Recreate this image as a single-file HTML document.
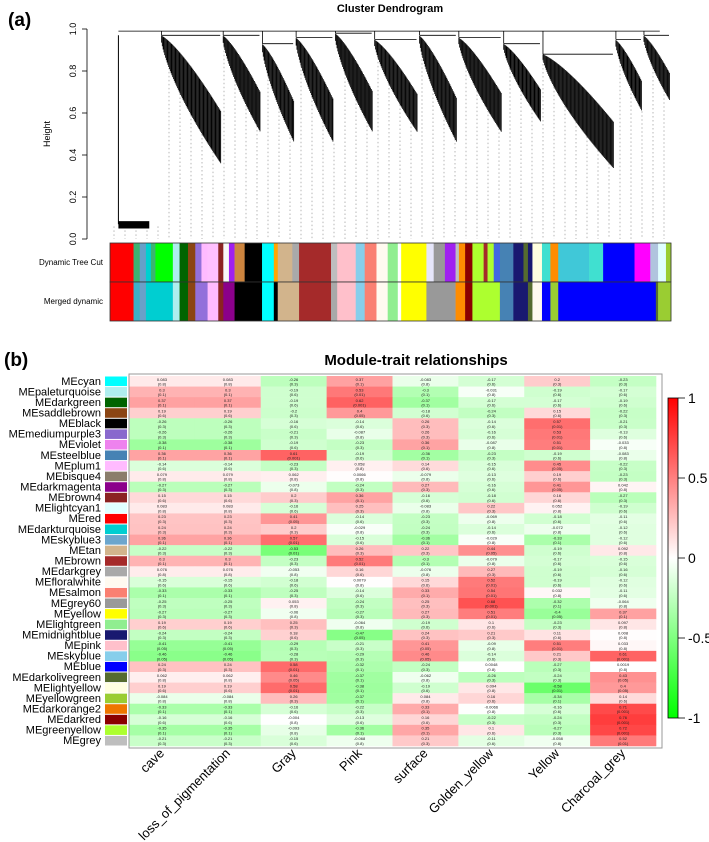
<!DOCTYPE html>
<html><head><meta charset="utf-8"><style>
html,body{margin:0;padding:0;background:#fff;}
svg{display:block;font-family:"Liberation Sans",Arial,sans-serif;}
</style></head><body>
<svg id="fig" width="709" height="842" viewBox="0 0 709 842">
  <text x="8" y="26" font-size="19" font-weight="bold">(a)</text>
  <text x="390" y="12" font-size="11" font-weight="bold" text-anchor="middle">Cluster Dendrogram</text>
  <g id="dendro"></g>
  <g id="yaxis"></g>
  <text transform="translate(50,134) rotate(-90)" font-size="9" text-anchor="middle">Height</text>
  <text x="103" y="265" font-size="8" text-anchor="end">Dynamic Tree Cut</text>
  <text x="103" y="304" font-size="8" text-anchor="end">Merged dynamic</text>
  <g id="bars"></g>

  <text x="4" y="366" font-size="19" font-weight="bold">(b)</text>
  <text x="416" y="365" font-size="15" font-weight="bold" text-anchor="middle">Module-trait relationships</text>
  <g id="heat"></g>
  <g id="rowlabels"></g>
  <g id="collabels"></g>
  <defs><linearGradient id="cbg" x1="0" y1="0" x2="0" y2="1">
    <stop offset="0" stop-color="#ff0000"/><stop offset="0.5" stop-color="#ffffff"/><stop offset="1" stop-color="#00ff00"/>
  </linearGradient></defs>
  <g id="cbar"></g>
</svg>
<script>
const modules = ["cyan","paleturquoise","darkgreen","saddlebrown","black","mediumpurple3","violet","steelblue","plum1","bisque4","darkmagenta","brown4","lightcyan1","red","darkturquoise","skyblue3","tan","brown","darkgrey","floralwhite","salmon","grey60","yellow","lightgreen","midnightblue","pink","skyblue","blue","darkolivegreen","lightyellow","yellowgreen","darkorange2","darkred","greenyellow","grey"];
const swatch = ["#00ffff","#afeeee","#006400","#8b4513","#000000","#8968cd","#ee82ee","#4682b4","#ffbbff","#8b7d6b","#8b008b","#8b2323","#e0ffff","#ff0000","#00ced1","#6ca6cd","#d2b48c","#a52a2a","#a9a9a9","#fffaf0","#fa8072","#999999","#ffff00","#90ee90","#191970","#ffc0cb","#87ceeb","#0000ff","#556b2f","#ffffe0","#9acd32","#ee7600","#8b0000","#adff2f","#bebebe"];
const traits = ["cave","loss_of_pigmentation","Gray","Pink","surface","Golden_yellow","Yellow","Charcoal_grey"];
const corr = [
[0.083,0.083,-0.26,0.37,-0.083,-0.17,0.2,-0.23],
[0.3,0.3,-0.19,0.53,-0.3,-0.031,-0.19,-0.17],
[0.37,0.37,-0.19,0.62,-0.37,-0.17,-0.17,-0.19],
[0.19,0.19,-0.2,0.4,-0.18,-0.24,0.15,-0.22],
[-0.26,-0.26,-0.16,-0.14,0.26,-0.14,0.57,-0.21],
[-0.26,-0.26,-0.21,-0.087,0.26,-0.16,0.53,-0.13],
[-0.38,-0.38,-0.19,-0.23,0.36,-0.087,0.51,-0.033],
[0.36,0.36,0.61,-0.19,-0.36,-0.23,-0.19,-0.083],
[-0.14,-0.14,-0.23,0.058,0.14,-0.15,0.45,-0.22],
[0.079,0.079,0.062,0.0066,-0.079,-0.13,0.19,-0.23],
[-0.27,-0.27,-0.073,-0.24,0.27,-0.16,0.41,0.042],
[0.15,0.15,0.2,0.36,-0.16,-0.18,0.16,-0.27],
[0.083,0.083,-0.16,0.25,-0.083,0.22,0.052,-0.19],
[0.23,0.23,0.41,-0.14,-0.23,-0.069,-0.18,-0.11],
[0.24,0.24,0.2,-0.029,-0.24,-0.14,-0.072,-0.12],
[0.36,0.36,0.57,-0.15,-0.36,-0.029,-0.33,-0.12],
[-0.22,-0.22,-0.53,0.26,0.22,0.44,-0.19,0.092],
[0.3,0.3,-0.23,0.52,-0.3,-0.079,-0.17,-0.15],
[0.076,0.076,-0.053,0.16,-0.076,0.27,-0.19,-0.16],
[-0.15,-0.15,-0.18,0.0079,0.15,0.52,-0.19,-0.12],
[-0.33,-0.33,-0.25,-0.14,0.33,0.54,0.032,-0.11],
[-0.25,-0.25,0.053,-0.24,0.25,0.68,-0.32,-0.064],
[-0.27,-0.27,-0.06,-0.27,0.27,0.51,-0.4,0.37],
[0.19,0.19,0.25,-0.064,-0.19,0.1,-0.23,0.097],
[-0.24,-0.24,0.18,-0.47,0.24,0.21,0.11,0.008],
[-0.41,-0.41,-0.29,-0.21,0.41,-0.09,0.51,0.033],
[-0.46,-0.46,-0.28,-0.29,0.46,-0.14,0.21,0.61],
[0.24,0.24,0.58,-0.32,-0.24,0.0048,-0.27,0.0019],
[0.062,0.062,0.46,-0.37,-0.062,-0.26,-0.24,0.43],
[0.19,0.19,0.58,-0.38,-0.19,0.094,-0.58,0.4],
[-0.084,-0.084,0.26,-0.37,0.084,0.16,-0.34,0.14],
[-0.33,-0.33,-0.16,-0.22,0.33,-0.0066,-0.16,0.71],
[-0.16,-0.16,-0.004,-0.13,0.16,-0.22,-0.24,0.76],
[-0.35,-0.35,-0.093,-0.36,0.35,0.1,-0.27,0.72],
[-0.21,-0.21,-0.15,-0.068,0.21,-0.11,-0.058,0.52]
];
const legendTicks = [1,0.5,0,-0.5,-1];
const heightTicks = [0,0.2,0.4,0.6,0.8,1.0];
// dendrogram clusters: [startFrac, endFrac, mergeHeight, lowestHeight]
const clusters = [
[0.09,0.2,0.97,0.35],[0.2,0.27,0.97,0.5],[0.27,0.33,0.93,0.45],[0.33,0.4,0.96,0.45],
[0.4,0.47,0.98,0.5],[0.47,0.55,0.95,0.5],[0.55,0.62,0.97,0.45],[0.62,0.7,0.96,0.5],
[0.7,0.77,0.93,0.55],[0.77,0.9,0.88,0.33],[0.9,0.95,0.95,0.6],[0.95,1.0,0.97,0.65]
];
// color bar segments: [endFrac, color]
const treeCut = [[0.042,"#ff0000"],[0.053,"#3cb371"],[0.064,"#66a0c8"],[0.073,"#00d0d0"],[0.081,"#3cb371"],[0.112,"#00ff00"],[0.124,"#aeeeee"],[0.139,"#006400"],[0.152,"#8b4513"],[0.163,"#9370db"],[0.174,"#ffbbff"],[0.193,"#ffc0ff"],[0.202,"#8b2323"],[0.212,"#f8f8f8"],[0.222,"#a020f0"],[0.24,"#cd853f"],[0.271,"#000000"],[0.292,"#00ffff"],[0.299,"#ffa500"],[0.325,"#d2b48c"],[0.337,"#a9a9a9"],[0.394,"#a52a2a"],[0.405,"#bebebe"],[0.438,"#ffc0cb"],[0.454,"#87ceeb"],[0.475,"#fa8072"],[0.495,"#fffaf0"],[0.513,"#90ee90"],[0.519,"#ffffff"],[0.564,"#ffff00"],[0.577,"#e6e6fa"],[0.597,"#999999"],[0.616,"#a020f0"],[0.622,"#bebebe"],[0.633,"#ff8c00"],[0.646,"#8b0000"],[0.666,"#adff2f"],[0.673,"#a52a2a"],[0.684,"#adff2f"],[0.695,"#4169e1"],[0.719,"#4682b4"],[0.737,"#191970"],[0.745,"#556b2f"],[0.753,"#191970"],[0.77,"#ffffe0"],[0.785,"#40e0d0"],[0.799,"#ff8c00"],[0.854,"#40c8d8"],[0.879,"#40e0d0"],[0.935,"#0000ff"],[0.963,"#ff00ff"],[0.977,"#b0c4de"],[0.991,"#e0ffff"],[1,"#9acd32"]];
const merged = [[0.042,"#ff0000"],[0.053,"#3cb0c8"],[0.064,"#6aa0c8"],[0.112,"#00ced1"],[0.124,"#aeeeee"],[0.139,"#006400"],[0.152,"#8b4513"],[0.174,"#9370db"],[0.193,"#ffbbff"],[0.202,"#8b2323"],[0.222,"#8b008b"],[0.271,"#000000"],[0.292,"#00ffff"],[0.299,"#000000"],[0.337,"#d2b48c"],[0.394,"#a52a2a"],[0.405,"#a9a9a9"],[0.438,"#ffc0cb"],[0.454,"#87ceeb"],[0.475,"#fa8072"],[0.495,"#fffaf0"],[0.513,"#90ee90"],[0.519,"#ffffff"],[0.564,"#ffff00"],[0.616,"#999999"],[0.633,"#ff8c00"],[0.646,"#8b0000"],[0.695,"#adff2f"],[0.719,"#4682b4"],[0.745,"#191970"],[0.753,"#556b2f"],[0.77,"#fffaf0"],[0.785,"#0000ff"],[0.799,"#9acd32"],[0.973,"#0000ff"],[0.977,"#556b2f"],[1,"#9acd32"]];

const NS="http://www.w3.org/2000/svg";
function mk(parent,tag,attrs){const e=document.createElementNS(NS,tag);for(const k in attrs)e.setAttribute(k,attrs[k]);parent.appendChild(e);return e;}
const DX0=110,DX1=671,DY0=239,DY1=29;
const dx=f=>DX0+f*(DX1-DX0);
const dy=h=>DY0-h*(DY0-DY1);
const ya=document.getElementById('yaxis');
mk(ya,'line',{x1:87,x2:87,y1:dy(0),y2:dy(1),stroke:'#000','stroke-width':0.8});
heightTicks.forEach(v=>{
  mk(ya,'line',{x1:82,x2:87,y1:dy(v),y2:dy(v),stroke:'#000','stroke-width':0.8});
  const t=mk(ya,'text',{transform:`translate(76,${dy(v)}) rotate(-90)`,'font-size':9,'text-anchor':'middle'});
  t.textContent=v.toFixed(1);
  
  
});
const dg=document.getElementById('dendro');
for(let x=DX0+4;x<DX1;x+=11){
  const f=(x-DX0)/(DX1-DX0);
  let bot=0.1;
  clusters.forEach(c=>{if(f>=c[0]&&f<c[1]){bot=c[2]-(c[2]-c[3])*Math.pow((f-c[0])/(c[1]-c[0]),0.7);}});
  if(f<0.09)bot=0.06;
  const l=mk(dg,'line',{x1:x,x2:x,y1:dy(bot),y2:dy(0),stroke:'#888','stroke-width':0.6,'stroke-dasharray':'1.5,2.5'});
  
  
}
mk(dg,'line',{x1:dx(0.015),x2:dx(0.015),y1:dy(0.97),y2:dy(0.07),stroke:'#000','stroke-width':1});
const rb=mk(dg,'rect',{x:dx(0.015),y:dy(0.085),width:dx(0.07)-dx(0.015),height:dy(0.05)-dy(0.085),fill:'#000'});


mk(dg,'line',{x1:dx(0.015),x2:dx(0.98),y1:dy(0.99),y2:dy(0.99),stroke:'#000','stroke-width':0.8});
clusters.forEach((c,i)=>{
  const g=mk(dg,'g',{});
  
  
  const x0=dx(c[0]),x1=dx(c[1]);
  mk(g,'line',{x1:x0+1,x2:x1-2,y1:dy(c[2]),y2:dy(c[2]),stroke:'#000','stroke-width':0.8});
  mk(g,'line',{x1:x0+1,x2:x0+1,y1:dy(0.99),y2:dy(c[2]),stroke:'#000','stroke-width':0.8});
  for(let x=x0+1;x<x1-1;x+=0.8){
    const t=(x-x0)/(x1-x0);
    const h=c[2]-(c[2]-c[3])*Math.pow(t,0.7);
    const top=c[2]-(c[2]-c[3])*Math.pow(t,1.3)*0.6;
    mk(g,'line',{x1:x,x2:x,y1:dy(top),y2:dy(h),stroke:'#000','stroke-width':0.8});
  }
});
const bg=document.getElementById('bars');
function drawBar(segs,y,h,name){
  let prev=0;
  segs.forEach(s=>{
    const r=mk(bg,'rect',{x:dx(prev),y:y,width:dx(s[0])-dx(prev)+0.3,height:h,fill:s[1]});
    
    
    prev=s[0];
  });
  mk(bg,'rect',{x:DX0,y:y,width:DX1-DX0,height:h,fill:'none',stroke:'#333','stroke-width':0.8});
}
drawBar(treeCut,243,39,'tree-cut');
drawBar(merged,282,39,'merged');

const HX0=129,HX1=656,HY0=376,HY1=746;
const rows=corr.length;
const cw=(HX1-HX0)/traits.length, rh=(HY1-HY0)/rows;
const hx=j=>HX0+j*cw, hy=i=>HY0+i*rh;
function col(v){const a=Math.round(255*(1-Math.min(1,Math.abs(v))));return v>=0?`rgb(255,${a},${a})`:`rgb(${a},255,${a})`;}
function pv(v){const a=Math.abs(v);return a>=0.6?"(0.001)":a>=0.5?"(0.01)":a>=0.4?"(0.05)":a>=0.3?"(0.1)":a>=0.2?"(0.3)":a>=0.1?"(0.6)":"(0.8)";}
const hg=document.getElementById('heat');
const rl=document.getElementById('rowlabels');
corr.forEach((row,i)=>{
  row.forEach((v,j)=>{
    const r=mk(hg,'rect',{x:hx(j),y:hy(i),width:cw+0.3,height:rh+0.3,fill:col(v)});
    
    
    const t=mk(hg,'text',{x:hx(j)+cw/2,y:hy(i)+rh*0.45,'font-size':4,'text-anchor':'middle',fill:'#222'});
    t.textContent=String(v);
    const t2=mk(hg,'text',{x:hx(j)+cw/2,y:hy(i)+rh*0.9,'font-size':4,'text-anchor':'middle',fill:'#222'});
    t2.textContent=pv(v);
  });
  const s=mk(rl,'rect',{x:105,y:hy(i)+0.5,width:22,height:rh-1,fill:swatch[i]});
  
  
  const lt=mk(rl,'text',{x:101,y:hy(i)+rh-1.8,'font-size':11,'text-anchor':'end'});
  lt.textContent='ME'+modules[i];
  
  
});
mk(hg,'rect',{x:HX0,y:HY0-2,width:662-HX0,height:HY1-HY0+4,fill:'none',stroke:'#999','stroke-width':1});
const cl=document.getElementById('collabels');
traits.forEach((t,j)=>{
  const x=hx(j)+cw/2+3;
  const e=mk(cl,'text',{transform:`translate(${x},754) rotate(-45)`,'font-size':13,'text-anchor':'end'});
  e.textContent=t;
  
  
});
const cb=document.getElementById('cbar');
const ly=v=>558-v*160;
mk(cb,'rect',{x:668,y:ly(1),width:10,height:ly(-1)-ly(1),fill:'url(#cbg)',stroke:'#000','stroke-width':0.8});
legendTicks.forEach(v=>{
  mk(cb,'line',{x1:678,x2:685,y1:ly(v),y2:ly(v),stroke:'#000','stroke-width':0.8});
  const t=mk(cb,'text',{x:688,y:ly(v)+5,'font-size':14});
  t.textContent=String(v);
  
  
});
</script>
</body></html>
